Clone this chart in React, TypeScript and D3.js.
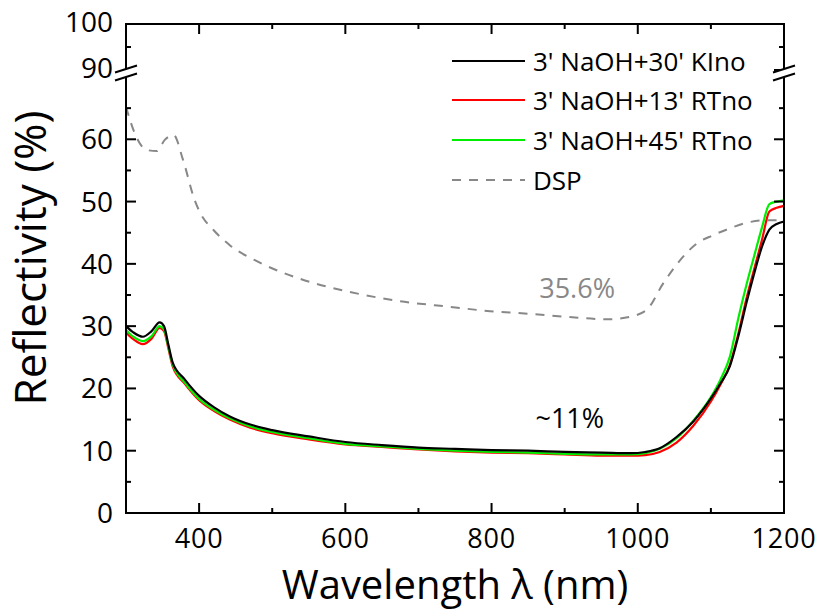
import React from "react";
import * as d3 from "d3";

const wavelengths = [300, 310, 323, 335, 346, 352, 358, 364, 380, 400, 420, 442, 470, 500, 550, 600, 650, 700, 750, 800, 850, 900, 950, 990, 1010, 1030, 1053, 1076, 1100, 1113, 1126, 1138, 1149, 1160, 1170, 1180, 1190, 1200];
const kino30 = [30.0, 29.0, 28.3, 29.2, 30.6, 30.0, 27.0, 24.1, 21.5, 18.8, 17.0, 15.5, 14.2, 13.3, 12.3, 11.4, 10.9, 10.5, 10.3, 10.1, 10.0, 9.8, 9.7, 9.6, 9.8, 10.4, 12.2, 14.7, 18.4, 20.8, 23.6, 28.6, 33.9, 38.8, 42.8, 45.5, 46.4, 46.8];
const rtno13 = [29.0, 27.9, 27.1, 28.0, 29.7, 29.2, 26.4, 23.5, 20.8, 18.1, 16.4, 15.0, 13.7, 12.8, 11.8, 11.0, 10.6, 10.2, 9.9, 9.7, 9.6, 9.4, 9.2, 9.2, 9.3, 9.8, 11.3, 14.0, 17.9, 20.6, 23.8, 29.0, 34.6, 39.5, 43.9, 48.4, 49.0, 49.3];
const rtno45 = [29.4, 28.3, 27.6, 28.4, 30.0, 29.5, 26.7, 23.8, 21.0, 18.3, 16.6, 15.2, 13.9, 13.0, 12.0, 11.1, 10.7, 10.3, 10.0, 9.8, 9.7, 9.5, 9.4, 9.4, 9.6, 10.3, 12.0, 14.8, 18.6, 21.4, 25.1, 31.5, 36.8, 41.6, 45.9, 49.6, 50.0, 50.2];

const dspWavelengths = [300, 314, 328, 342, 353, 365, 378, 394, 401, 420, 442, 483, 538, 606, 675, 743, 798, 850, 903, 958, 989, 1012, 1035, 1058, 1080, 1103, 1126, 1149, 1175, 1200];
const dsp = [65.2, 60.4, 58.3, 58.1, 59.9, 60.7, 56.7, 50.2, 48.3, 45.4, 43.0, 40.2, 37.6, 35.5, 34.0, 33.1, 32.4, 32.0, 31.5, 31.1, 31.5, 32.6, 36.9, 40.6, 43.2, 44.6, 45.7, 46.6, 47.0, 47.0];

const seriesNames = ["3' NaOH+30' KIno", "3' NaOH+13' RTno", "3' NaOH+45' RTno", "DSP"];
const seriesColors = ["#000000", "#ff0000", "#00ee00", "#888888"];

const xMajor = [400, 600, 800, 1000, 1200];
const xMinor = [500, 700, 900, 1100];
const yLowMajor = [0, 10, 20, 30, 40, 50, 60];
const yLowMinor = [5, 15, 25, 35, 45, 55, 65];
const yHighMajor = [90, 100];
const yHighMinor = [95];

const annotations = [
  { text: "35.6%", x: 917, y: 34.5, color: "#888888" },
  { text: "~11%", x: 907, y: 13.6, color: "#000000" },
];

const FONT = "'Open Sans', 'DejaVu Sans', sans-serif";

export default function App() {
  const W = 822, H = 612;
  const left = 126, right = 784, top = 24, bottom = 513;
  const x = d3.scaleLinear().domain([300, 1200]).range([left, right]);
  const yLow = d3.scaleLinear().domain([0, 70]).range([bottom, 77]);
  const yHigh = d3.scaleLinear().domain([90, 100]).range([70, top]);

  const line = d3
    .line<[number, number]>()
    .x((d) => x(d[0]))
    .y((d) => yLow(d[1]))
    .curve(d3.curveMonotoneX);

  const mk = (wl: number[], v: number[]) => wl.map((w, i) => [w, v[i]] as [number, number]);
  const curves = [mk(wavelengths, kino30), mk(wavelengths, rtno13), mk(wavelengths, rtno45)];
  const dspPath = line(mk(dspWavelengths, dsp)) || "";

  const majorLen = 10, minorLen = 5;
  const breakYs = [69, 77];

  const breakSymbol = (cx: number) => (
    <g>
      <polygon
        points={`${cx - 11},${breakYs[0] + 3.5} ${cx + 11},${breakYs[0] - 3.5} ${cx + 11},${breakYs[1] - 3.5} ${cx - 11},${breakYs[1] + 3.5}`}
        fill="#fff"
      />
      {breakYs.map((by, i) => (
        <line key={i} x1={cx - 11} y1={by + 3.5} x2={cx + 11} y2={by - 3.5} stroke="#000" strokeWidth={2} />
      ))}
    </g>
  );

  const legendY = [61, 100, 140, 180];

  return (
    <svg width={W} height={H} style={{ position: "absolute", left: 0, top: 0, background: "#fff" }}>
      <rect x={0} y={0} width={W} height={H} fill="#fff" />
      {/* data */}
      <path d={dspPath} fill="none" stroke={seriesColors[3]} strokeWidth={2} strokeDasharray="9,8" />
      {[1, 2, 0].map((i) => (
        <path key={i} d={line(curves[i]) || ""} fill="none" stroke={seriesColors[i]} strokeWidth={2.2} />
      ))}

      {/* frame */}
      <rect x={left} y={top} width={right - left} height={bottom - top} fill="none" stroke="#000" strokeWidth={2} />

      {/* x ticks */}
      {xMajor.map((v) => (
        <g key={"xM" + v}>
          <line x1={x(v)} x2={x(v)} y1={bottom} y2={bottom - majorLen} stroke="#000" strokeWidth={2} />
          <line x1={x(v)} x2={x(v)} y1={top} y2={top + majorLen} stroke="#000" strokeWidth={2} />
          <text x={x(v)} y={548} textAnchor="middle" fontFamily={FONT} fontSize={27} letterSpacing={0.8} fill="#000">
            {v}
          </text>
        </g>
      ))}
      {xMinor.map((v) => (
        <g key={"xm" + v}>
          <line x1={x(v)} x2={x(v)} y1={bottom} y2={bottom - minorLen} stroke="#000" strokeWidth={2} />
          <line x1={x(v)} x2={x(v)} y1={top} y2={top + minorLen} stroke="#000" strokeWidth={2} />
        </g>
      ))}

      {/* y ticks lower */}
      {yLowMajor.map((v) => (
        <g key={"yM" + v}>
          <line x1={left} x2={left + majorLen} y1={yLow(v)} y2={yLow(v)} stroke="#000" strokeWidth={2} />
          <line x1={right} x2={right - majorLen} y1={yLow(v)} y2={yLow(v)} stroke="#000" strokeWidth={2} />
          <text x={113} y={yLow(v) + 10} textAnchor="end" fontFamily={FONT} fontSize={28} fill="#000">
            {v}
          </text>
        </g>
      ))}
      {yLowMinor.map((v) => (
        <g key={"ym" + v}>
          <line x1={left} x2={left + minorLen} y1={yLow(v)} y2={yLow(v)} stroke="#000" strokeWidth={2} />
          <line x1={right} x2={right - minorLen} y1={yLow(v)} y2={yLow(v)} stroke="#000" strokeWidth={2} />
        </g>
      ))}
      {/* y ticks upper */}
      {yHighMajor.map((v) => (
        <g key={"yH" + v}>
          <line x1={left} x2={left + majorLen} y1={yHigh(v)} y2={yHigh(v)} stroke="#000" strokeWidth={2} />
          <line x1={right} x2={right - majorLen} y1={yHigh(v)} y2={yHigh(v)} stroke="#000" strokeWidth={2} />
          <text x={113} y={yHigh(v) + 8} textAnchor="end" fontFamily={FONT} fontSize={28} fill="#000">
            {v}
          </text>
        </g>
      ))}
      {yHighMinor.map((v) => (
        <g key={"yh" + v}>
          <line x1={left} x2={left + minorLen} y1={yHigh(v)} y2={yHigh(v)} stroke="#000" strokeWidth={2} />
          <line x1={right} x2={right - minorLen} y1={yHigh(v)} y2={yHigh(v)} stroke="#000" strokeWidth={2} />
        </g>
      ))}

      {breakSymbol(left)}
      {breakSymbol(right)}

      {/* annotations */}
      {annotations.map((a) => (
        <text key={a.text} x={x(a.x)} y={yLow(a.y)} textAnchor="middle" fontFamily={FONT} fontSize={27} fill={a.color}>
          {a.text}
        </text>
      ))}

      {/* legend */}
      {seriesNames.map((name, i) => (
        <g key={name}>
          <line
            x1={452}
            x2={525}
            y1={legendY[i]}
            y2={legendY[i]}
            stroke={seriesColors[i]}
            strokeWidth={2}
            strokeDasharray={i === 3 ? "9,8" : undefined}
          />
          <text x={533} y={legendY[i] + 9.5} fontFamily={FONT} fontSize={26} fill="#000">
            {name}
          </text>
        </g>
      ))}

      {/* axis titles */}
      <text x={455} y={599} textAnchor="middle" fontFamily={FONT} fontSize={40} fill="#000">
        Wavelength λ (nm)
      </text>
      <text
        transform={`translate(46,258) rotate(-90)`}
        textAnchor="middle"
        fontFamily={FONT}
        fontSize={44}
        fill="#000"
      >
        Reflectivity (%)
      </text>
    </svg>
  );
}
